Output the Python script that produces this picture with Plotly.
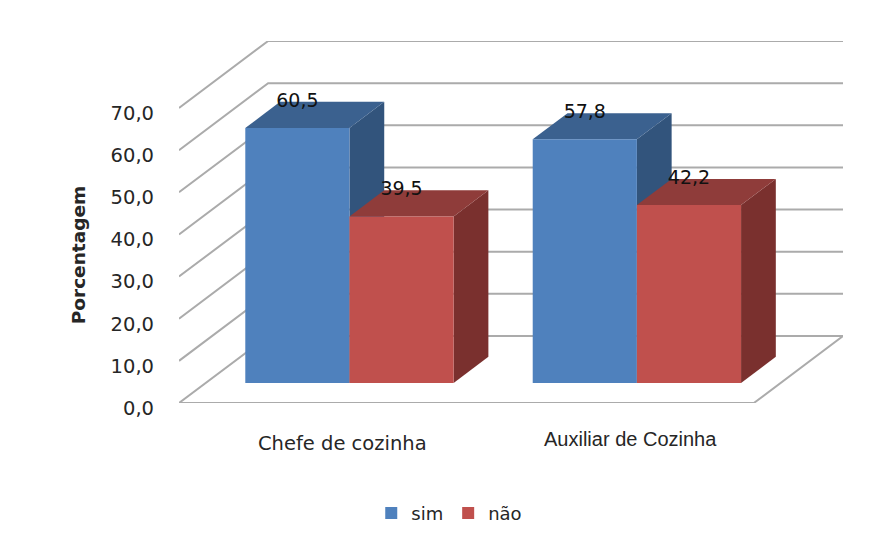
import plotly.graph_objects as go

categories = ["Chefe de cozinha", "Auxiliar de Cozinha"]
series_names = ["sim", "não"]
sim_values = [60.5, 57.8]
nao_values = [39.5, 42.2]
y_ticks = [0, 10, 20, 30, 40, 50, 60, 70]
y_title = "Porcentagem"

front_colors = ["#4F81BD", "#C0504D"]
top_colors = ["#3B618F", "#8F3C3A"]
side_colors = ["#32547C", "#7A302E"]
grid_color = "#ABABAB"
text_color = "#262626"
font_a = "DejaVu Sans"
font_b = "Liberation Sans"

# oblique projection: axis units moved per unit of depth
DX = 89 / 287
DY = 67 / 4.215
Z0, Z1 = 0.30, 0.69
BAR_W = 0.3624
N = len(categories)
X_MAX = N + DX
Y_MAX = y_ticks[-1] + DY

values = [sim_values, nao_values]


def bar_left(i, s):
    return i + 0.5 + Z0 * DX - BAR_W + s * BAR_W


fig = go.Figure()

# walls and floor
gx, gy = [], []
for t in y_ticks:
    gx += [0, DX, X_MAX, None]
    gy += [t, t + DY, t + DY, None]
gx += [0, N, X_MAX]
gy += [0, 0, DY]
fig.add_trace(go.Scatter(x=gx, y=gy, mode="lines", showlegend=False, hoverinfo="skip",
                         cliponaxis=False, line=dict(color=grid_color, width=2)))

# depth faces of each bar
for i in range(N):
    for s in range(len(values)):
        v = values[s][i]
        l = bar_left(i, s)
        r = l + BAR_W
        b = Z0 * DY
        t = b + v
        d = (Z1 - Z0)
        fig.add_trace(go.Scatter(
            x=[r, r + d * DX, r + d * DX, r, r],
            y=[b, b + d * DY, t + d * DY, t, b],
            fill="toself", fillcolor=side_colors[s], mode="none",
            showlegend=False, hoverinfo="skip"))
        fig.add_trace(go.Scatter(
            x=[l, l + d * DX, r + d * DX, r, l],
            y=[t, t + d * DY, t + d * DY, t, t],
            fill="toself", fillcolor=top_colors[s], mode="none",
            showlegend=False, hoverinfo="skip"))

# front faces, on an overlay so they hide the depth faces behind them
for s, name in enumerate(series_names):
    fig.add_trace(go.Bar(
        x=[bar_left(i, s) + BAR_W / 2 for i in range(N)],
        y=values[s],
        base=[Z0 * DY] * N,
        width=BAR_W,
        name=name,
        marker=dict(color=front_colors[s], line=dict(width=0)),
        xaxis="x2", yaxis="y2"))

# value labels
for s in range(len(values)):
    fig.add_trace(go.Scatter(
        x=[bar_left(i, s) + BAR_W / 2 for i in range(N)],
        y=[v + Z1 * DY for v in values[s]],
        text=[f"{v:.1f}".replace(".", ",") for v in values[s]],
        mode="text", textposition="middle center",
        textfont=dict(family=font_a, size=19, color="#111111"),
        showlegend=False, hoverinfo="skip", cliponaxis=False,
        xaxis="x2", yaxis="y2"))

for i, cat in enumerate(categories):
    fig.add_annotation(x=i + 0.5 + 0.07, y=0, xref="x", yref="y", text=cat,
                       showarrow=False, yshift=[-40, -36][i],
                       font=dict(family=[font_a, font_b][i], size=[19.5, 20][i], color=text_color))

# axis title is centred on the front edge of the wall, not on the whole plot area
fig.add_annotation(x=-0.151, xref="paper", xanchor="center", y=y_ticks[-1] / 2, yref="y",
                   text=f"<b>{y_title}</b>", textangle=-90, showarrow=False,
                   font=dict(family=font_a, size=18.5, color=text_color))

axis_x = dict(range=[0, X_MAX], showgrid=False, zeroline=False, showticklabels=False,
              showline=False, ticks="")
fig.update_layout(
    width=882, height=537,
    margin=dict(l=171, r=47, t=33, b=142),
    paper_bgcolor="white", plot_bgcolor="white",
    barmode="overlay", separators=",.",
    font=dict(family=font_a, size=18, color=text_color),
    showlegend=True,
    legend=dict(orientation="h", x=0.407, xanchor="center", y=-0.305, yanchor="middle",
                font=dict(family=font_a, size=18, color=text_color), itemsizing="constant",
                traceorder="normal"),
    xaxis=axis_x,
    xaxis2=dict(axis_x, overlaying="x"),
    yaxis=dict(range=[0, Y_MAX], showgrid=False, zeroline=False, showline=False,
               tickvals=y_ticks, tickformat=".1f", ticks="", ticklabelstandoff=24,
               ticklabelshift=5, tickfont=dict(family=font_a, size=19.5, color=text_color)),
    yaxis2=dict(range=[0, Y_MAX], overlaying="y", showgrid=False, zeroline=False,
                showticklabels=False, showline=False, ticks=""),
)

fig.write_html("out.html")
